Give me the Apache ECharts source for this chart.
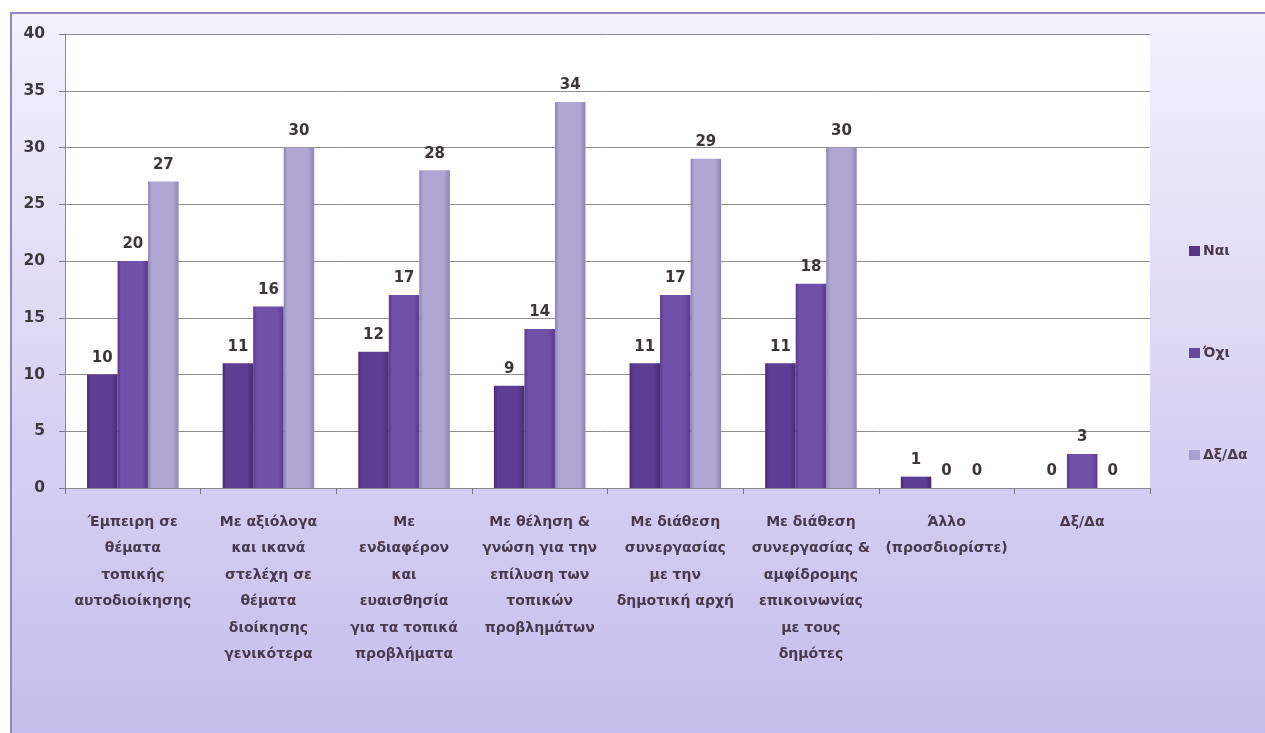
<!DOCTYPE html>
<html>
<head>
<meta charset="utf-8">
<script src="https://cdn.jsdelivr.net/npm/echarts@6/dist/echarts.min.js"></script>
<style>
  html, body { margin: 0; padding: 0; background: #ffffff; }
  #chart { width: 1265px; height: 733px; }
</style>
</head>
<body>
<div id="chart"></div>
<script>
// Survey answers per quality of the candidate
const categories = [
  'Έμπειρη σε\nθέματα\nτοπικής\nαυτοδιοίκησης',
  'Με αξιόλογα\nκαι ικανά\nστελέχη σε\nθέματα\nδιοίκησης\nγενικότερα',
  'Με\nενδιαφέρον\nκαι\nευαισθησία\nγια τα τοπικά\nπροβλήματα',
  'Με θέληση &\nγνώση για την\nεπίλυση των\nτοπικών\nπροβλημάτων',
  'Με διάθεση\nσυνεργασίας\nμε την\nδημοτική αρχή',
  'Με διάθεση\nσυνεργασίας &\nαμφίδρομης\nεπικοινωνίας\nμε τους\nδημότες',
  'Άλλο\n(προσδιορίστε)',
  'Δξ/Δα'
];
const seriesNames = ['Ναι', 'Όχι', 'Δξ/Δα'];
const yesValues = [10, 11, 12, 9, 11, 11, 1, 0];
const noValues = [20, 16, 17, 14, 17, 18, 0, 3];
const dkValues = [27, 30, 28, 34, 29, 30, 0, 0];
const yTicks = { min: 0, max: 40, interval: 5 };

const FONT = '"DejaVu Sans", "Noto Sans", sans-serif';

// cylinder-like shading across each bar
function shade(edge, mid) {
  return new echarts.graphic.LinearGradient(0, 0, 1, 0, [
    { offset: 0, color: edge },
    { offset: 0.12, color: mid },
    { offset: 0.8, color: mid },
    { offset: 1, color: edge }
  ]);
}

const palette = [
  { edge: '#452a70', mid: '#5e3d94', legend: '#553686' },
  { edge: '#573a8c', mid: '#7150aa', legend: '#6548a0' },
  { edge: '#8d82b4', mid: '#b0a6d4', legend: '#aaa0d0' }
];
const values = [yesValues, noValues, dkValues];

const chart = echarts.init(document.getElementById('chart'), null, { renderer: 'canvas' });

chart.setOption({
  animation: false,
  textStyle: { fontFamily: FONT },
  graphic: [
    {
      type: 'rect',
      z: -10,
      shape: { x: 11, y: 13, width: 1270, height: 740 },
      style: {
        fill: new echarts.graphic.LinearGradient(0, 0, 0, 1, [
          { offset: 0, color: '#f3f1fb' },
          { offset: 0.55, color: '#d8d2f2' },
          { offset: 1, color: '#c4bdec' }
        ]),
        stroke: '#9585c6',
        lineWidth: 2
      }
    }
  ],
  legend: {
    orient: 'vertical',
    left: 1184,
    top: 239,
    itemGap: 88,
    itemWidth: 11,
    itemHeight: 10,
    icon: 'rect',
    textStyle: { fontFamily: FONT, fontSize: 14, fontWeight: 'bold', color: '#4c3a4e', padding: [0, 0, 0, -2] },
    data: seriesNames.map((n, i) => ({ name: n, itemStyle: { color: palette[i].legend } }))
  },
  grid: {
    left: 65,
    right: 115,
    top: 34,
    bottom: 245,
    show: true,
    backgroundColor: '#ffffff',
    borderWidth: 0
  },
  xAxis: {
    type: 'category',
    data: categories,
    axisLine: { show: true, lineStyle: { color: '#8a8a96', width: 1 } },
    axisTick: { show: true, length: 6, interval: 0, lineStyle: { color: '#7a7a86' } },
    axisLabel: {
      interval: 0,
      margin: 21,
      fontFamily: FONT,
      fontSize: 14,
      fontWeight: 'bold',
      lineHeight: 26.5,
      color: '#4a3a50',
      align: 'center'
    }
  },
  yAxis: {
    type: 'value',
    min: yTicks.min,
    max: yTicks.max,
    interval: yTicks.interval,
    axisLine: { show: true, lineStyle: { color: '#8a8a96', width: 1 } },
    axisTick: { show: true, length: 6, lineStyle: { color: '#7a7a86' } },
    splitLine: { show: true, lineStyle: { color: '#8e8e8e', width: 1 } },
    axisLabel: {
      margin: 20,
      fontFamily: FONT,
      fontSize: 15.5,
      fontWeight: 'bold',
      color: '#3e3a40'
    }
  },
  series: seriesNames.map((name, i) => ({
    name: name,
    type: 'bar',
    data: values[i],
    barWidth: '22.5%',
    barGap: '0%',
    itemStyle: {
      color: shade(palette[i].edge, palette[i].mid),
      borderWidth: 0
    },
    label: {
      show: true,
      position: 'top',
      distance: 9,
      fontFamily: FONT,
      fontSize: 15,
      fontWeight: 'bold',
      color: '#3c3636'
    }
  }))
});
</script>
</body>
</html>
